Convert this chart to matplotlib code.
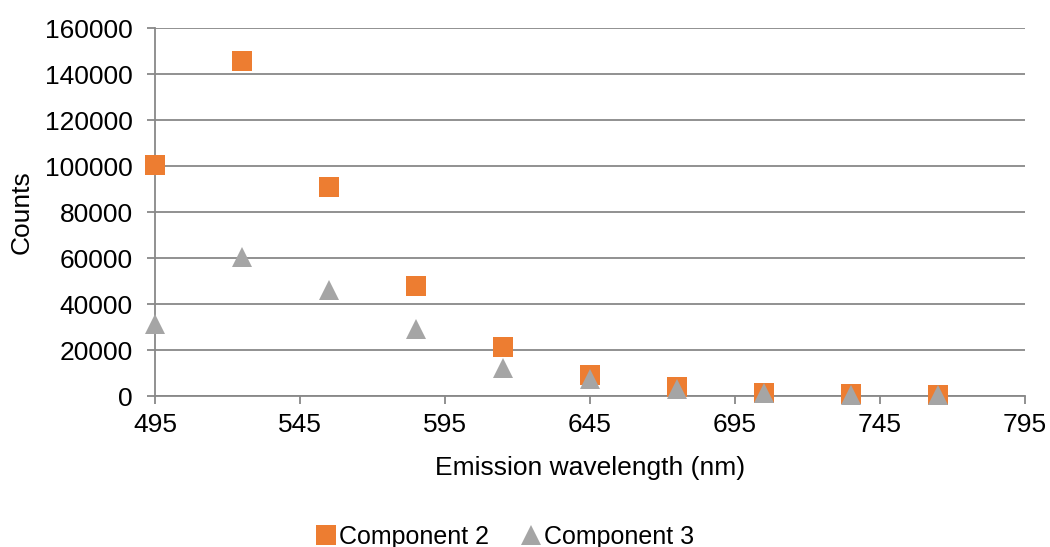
import matplotlib.pyplot as plt
from matplotlib.lines import Line2D

plt.rcParams['font.family'] = ['Liberation Sans', 'DejaVu Sans']

# emission wavelengths (nm)
wavelength = [495, 525, 555, 585, 615, 645, 675, 705, 735, 765]
# counts
comp2 = [100500, 145800, 91000, 47800, 21500, 9100, 4000, 1500, 800, 400]
comp3 = [31500, 60400, 46300, 29300, 12000, 7400, 3000, 1100, 600, 300]

x_ticks = [495, 545, 595, 645, 695, 745, 795]
y_ticks = [0, 20000, 40000, 60000, 80000, 100000, 120000, 140000, 160000]

orange = '#ED7D31'
grey = '#A5A5A5'
axis_col = '#888888'
fs = 19

fig = plt.figure(figsize=(10.5, 5.47), dpi=100)
ax = fig.add_axes([155 / 1050, 1 - 396 / 547, 870 / 1050, 368 / 547])

ax.plot(wavelength, comp2, linestyle='none', marker='s', markersize=14.5,
        color=orange, markeredgewidth=0, zorder=3, clip_on=False)
ax.plot(wavelength, comp3, linestyle='none', marker='^', markersize=14.5,
        color=grey, markeredgewidth=0, zorder=4, clip_on=False)

ax.set_xlim(495, 795)
ax.set_ylim(0, 160000)
ax.set_xticks(x_ticks)
ax.set_yticks(y_ticks)
ax.yaxis.grid(True, color=axis_col, linewidth=1.3)
ax.set_axisbelow(True)

for s in ['top', 'right']:
    ax.spines[s].set_visible(False)
for s in ['left', 'bottom']:
    ax.spines[s].set_color(axis_col)
    ax.spines[s].set_linewidth(1.3)

ax.tick_params(axis='both', colors=axis_col, length=6, width=1.3,
               labelsize=fs, labelcolor='black')
ax.tick_params(axis='x', pad=6)
ax.tick_params(axis='y', pad=10)

ax.set_xlabel('Emission wavelength (nm)', fontsize=fs, labelpad=14)
ax.set_ylabel('Counts', fontsize=fs, labelpad=8)

handles = [
    Line2D([], [], linestyle='none', marker='s', markersize=14.5, color=orange, markeredgewidth=0),
    Line2D([], [], linestyle='none', marker='^', markersize=14.5, color=grey, markeredgewidth=0),
]
fig.legend(handles, ['Component 2', 'Component 3'], loc='lower center',
           bbox_to_anchor=(505 / 1050, -0.045), ncol=2, frameon=False,
           fontsize=18, handlelength=0.8, handletextpad=0.1, columnspacing=1.3)

fig.savefig('out.png', dpi=100)
